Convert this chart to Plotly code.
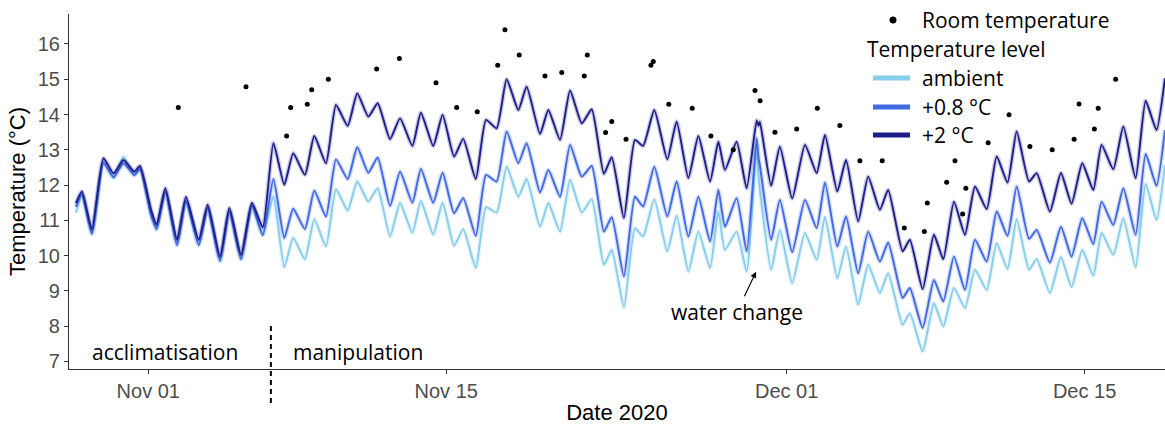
import pandas as pd
import plotly.graph_objects as go

BASE = pd.Timestamp("2020-11-01")

# days since 1 Nov 2020 (shared time base for the three tank series)
day = [-3.40, -3.12, -2.65, -2.11, -1.63, -1.17, -0.66, -0.39, 0.13, 0.39,
       0.80, 1.35, 1.77, 2.37, 2.79, 3.37, 3.81, 4.36, 4.87, 5.38,
       5.88, 6.39, 6.81, 7.36, 7.80, 8.35, 8.82, 9.37, 9.82, 10.34,
       10.78, 11.36, 11.83, 12.41, 12.81, 13.39, 13.83, 14.37, 14.80, 15.39,
       15.87, 16.37, 16.84, 17.39, 17.78, 18.41, 18.80, 19.35, 19.82, 20.37,
       20.84, 21.41, 21.78, 22.35, 22.87, 23.25, 23.78, 24.39, 24.83, 25.38,
       25.85, 26.40, 26.79, 27.10, 27.65, 28.12, 28.59, 28.68, 28.74, 29.27,
       29.68, 30.26, 30.86, 31.41, 31.80, 32.38, 32.79, 33.36, 33.83, 34.38,
       34.77, 35.45, 35.79, 36.39, 36.92, 37.36, 37.86, 38.38, 38.85, 39.40,
       39.87, 40.38, 40.81, 41.39, 41.75, 42.37, 42.89, 43.39, 43.89, 44.41,
       44.80, 45.35, 45.82, 46.40, 46.87, 47.38, 47.78]

temp_plus2 = [11.49, 11.82, 10.74, 12.76, 12.33, 12.71, 12.38, 12.54, 11.30, 10.87,
              11.91, 10.45, 11.66, 10.45, 11.44, 9.97, 11.35, 10.02, 11.50, 10.80,
              13.19, 12.01, 12.90, 12.29, 13.39, 12.62, 14.27, 13.68, 14.60, 13.94,
              14.32, 13.30, 13.89, 13.11, 14.05, 13.11, 13.99, 12.81, 13.31, 12.17,
              13.85, 13.61, 15.00, 14.13, 14.79, 13.45, 14.13, 13.28, 14.68, 13.75,
              14.15, 12.32, 12.79, 11.07, 13.28, 13.11, 14.13, 12.73, 13.80, 12.20,
              13.39, 12.10, 13.23, 12.43, 13.23, 11.91, 13.83, 13.68, 13.80, 11.98,
              13.09, 11.62, 13.14, 12.34, 13.42, 11.82, 12.71, 10.97, 12.24, 11.30,
              11.86, 10.12, 10.45, 9.05, 10.59, 9.90, 11.53, 10.59, 11.96, 11.32,
              12.81, 12.07, 13.52, 12.10, 12.34, 11.25, 12.34, 11.47, 12.62, 11.86,
              13.14, 12.45, 13.66, 12.20, 14.39, 13.56, 15.03]

temp_plus08 = [11.38, 11.75, 10.62, 12.62, 12.22, 12.62, 12.28, 12.45, 11.15, 10.75,
               11.82, 10.30, 11.55, 10.30, 11.35, 9.85, 11.25, 9.90, 11.42, 10.58,
               12.17, 10.50, 11.33, 10.75, 11.84, 11.11, 12.73, 12.17, 13.07, 12.35,
               12.78, 11.41, 12.38, 11.50, 12.46, 11.50, 12.35, 11.20, 11.63, 10.56,
               12.29, 12.10, 13.52, 12.62, 13.19, 11.79, 12.43, 11.67, 13.14, 12.24,
               12.54, 10.68, 11.09, 9.41, 11.67, 11.39, 12.52, 11.11, 12.10, 10.54,
               11.67, 10.40, 11.86, 10.82, 11.63, 10.12, 13.33, 12.75, 12.57, 10.45,
               11.58, 10.10, 11.58, 10.78, 12.07, 10.26, 11.11, 9.50, 10.68, 9.83,
               10.37, 8.80, 9.08, 7.95, 9.31, 8.70, 9.97, 9.03, 10.45, 9.83,
               11.25, 10.56, 11.96, 10.47, 10.73, 9.80, 10.82, 9.97, 11.06, 10.33,
               11.53, 10.87, 11.91, 10.59, 12.88, 11.98, 13.56]

temp_ambient = [11.22, 11.70, 10.62, 12.68, 12.20, 12.80, 12.30, 12.47, 11.15, 10.75,
                11.82, 10.30, 11.55, 10.30, 11.35, 9.85, 11.25, 9.90, 11.42, 10.60,
                11.67, 9.67, 10.50, 9.90, 11.03, 10.26, 11.88, 11.28, 12.10, 11.53,
                11.91, 10.54, 11.49, 10.65, 11.55, 10.60, 11.50, 10.28, 10.75, 9.65,
                11.37, 11.22, 12.52, 11.67, 12.17, 10.82, 11.49, 10.68, 12.15, 11.22,
                11.60, 9.74, 10.16, 8.54, 10.78, 10.54, 11.60, 10.12, 11.13, 9.55,
                10.68, 9.65, 11.25, 10.16, 10.68, 9.55, 13.15, 12.20, 11.86, 9.60,
                10.73, 9.22, 10.64, 9.88, 11.10, 9.36, 10.26, 8.61, 9.74, 8.94,
                9.50, 8.04, 8.37, 7.28, 8.65, 7.99, 9.08, 8.51, 9.60, 9.03,
                10.35, 9.62, 11.03, 9.60, 9.90, 8.94, 9.96, 9.11, 10.16, 9.43,
                10.64, 10.02, 11.06, 9.67, 12.03, 11.01, 12.57]

room_day = [1.41, 4.59, 6.50, 6.69, 7.47, 7.68, 8.46, 10.73, 11.80, 13.52,
            14.49, 15.46, 16.42, 16.76, 17.43, 18.64, 19.43, 20.49, 20.63, 21.49,
            21.78, 22.45, 23.62, 23.73, 24.46, 25.56, 26.44, 27.49, 28.51, 28.75,
            29.45, 30.47, 31.44, 32.50, 33.44, 34.49, 35.53, 36.47, 36.61, 37.52,
            37.91, 38.27, 38.42, 39.47, 40.45, 41.43, 42.48, 43.51, 43.74, 44.46,
            44.64, 45.46]
room_temp = [14.20, 14.79, 13.39, 14.20, 14.29, 14.70, 15.00, 15.29, 15.59, 14.90,
             14.20, 14.08, 15.40, 16.40, 15.69, 15.09, 15.19, 15.09, 15.69, 13.49,
             13.80, 13.30, 15.40, 15.50, 14.29, 14.18, 13.39, 13.00, 14.68, 14.39,
             13.50, 13.59, 14.18, 13.69, 12.69, 12.69, 10.78, 10.68, 11.49, 12.08,
             12.69, 11.18, 11.91, 13.20, 13.99, 13.09, 13.00, 13.30, 14.30, 13.59,
             14.18, 15.00]

series_names = ["ambient", "+0.8 °C", "+2 °C"]
series_values = [temp_ambient, temp_plus08, temp_plus2]
series_colors = ["#87CEEB", "#4169E1", "#1E1E8A"]

tick_dates = ["2020-11-01", "2020-11-15", "2020-12-01", "2020-12-15"]
tick_labels = ["Nov 01", "Nov 15", "Dec 01", "Dec 15"]

manipulation_start = 5.76   # days since 1 Nov
water_change_day = 28.56
water_change_temp = 9.54

x_min = pd.Timestamp("2020-10-28 06:33")
x_max = pd.Timestamp("2020-12-18 18:43")
y_min, y_max = 6.785, 16.85

x_dates = BASE + pd.to_timedelta(day, unit="D")
room_dates = BASE + pd.to_timedelta(room_day, unit="D")

fig = go.Figure()

for name, vals, col in zip(series_names, series_values, series_colors):
    fig.add_trace(go.Scatter(x=x_dates, y=vals, mode="lines", name=name,
                             line=dict(color=col, width=4.5, shape="spline", smoothing=0.5),
                             opacity=0.22, showlegend=False, hoverinfo="skip"))
    fig.add_trace(go.Scatter(x=x_dates, y=vals, mode="lines", name=name,
                             line=dict(color=col, width=1.9, shape="spline", smoothing=0.5),
                             showlegend=False))

fig.add_trace(go.Scatter(x=room_dates, y=room_temp, mode="markers", name="Room temperature",
                         marker=dict(color="black", size=5), showlegend=False))

L, R, T, B = 69, 0, 14, 56
PW, PH = 1165 - L - R, 425 - T - B


def px_to_paper_x(px):
    return (px - L) / PW


def px_to_paper_y(py):
    return (425 - B - py) / PH


ann_font = dict(family="Open Sans, Noto Sans, sans-serif", size=21, color="black")

shapes = []
annotations = []

# dashed separator
man_ts = BASE + pd.Timedelta(days=manipulation_start)
man_px = (man_ts - x_min) / (x_max - x_min)
shapes.append(dict(type="line", xref="paper", yref="paper", x0=man_px, x1=man_px,
                   y0=px_to_paper_y(403), y1=px_to_paper_y(323),
                   line=dict(color="black", width=2, dash="5px,4px")))

annotations.append(dict(x=BASE + pd.Timedelta(hours=19), y=7.27, xref="x", yref="y",
                        text="acclimatisation", showarrow=False, xanchor="center",
                        yanchor="middle", font=ann_font))
annotations.append(dict(x=BASE + pd.Timedelta(days=6.71), y=7.27, xref="x", yref="y",
                        text="manipulation", showarrow=False, xanchor="left",
                        yanchor="middle", font=ann_font))
annotations.append(dict(x=BASE + pd.Timedelta(days=water_change_day), y=water_change_temp,
                        xref="x", yref="y", text="water change", showarrow=True,
                        arrowhead=2, arrowsize=1.1, arrowwidth=1.1, arrowcolor="black",
                        ax=-19, ay=40, font=ann_font, standoff=0))

# manual legend
leg_text_x = px_to_paper_x(920)
shapes.append(dict(type="circle", xref="paper", yref="paper", xsizemode="pixel",
                   ysizemode="pixel", xanchor=px_to_paper_x(893), yanchor=px_to_paper_y(20),
                   x0=-3.5, x1=3.5, y0=-3.5, y1=3.5, fillcolor="black",
                   line=dict(color="black", width=0)))
annotations.append(dict(x=leg_text_x, y=px_to_paper_y(20), xref="paper", yref="paper",
                        text="Room temperature", showarrow=False, xanchor="left",
                        yanchor="middle", font=ann_font))
annotations.append(dict(x=px_to_paper_x(865), y=px_to_paper_y(49), xref="paper", yref="paper",
                        text="Temperature level", showarrow=False, xanchor="left",
                        yanchor="middle", font=ann_font))
for name, col, py in zip(series_names, series_colors, [78, 107, 135]):
    shapes.append(dict(type="line", xref="paper", yref="paper",
                       x0=px_to_paper_x(873), x1=px_to_paper_x(910),
                       y0=px_to_paper_y(py), y1=px_to_paper_y(py),
                       line=dict(color=col, width=5)))
    annotations.append(dict(x=leg_text_x, y=px_to_paper_y(py), xref="paper", yref="paper",
                            text=name, showarrow=False, xanchor="left", yanchor="middle",
                            font=ann_font))

axis_font = dict(family="Liberation Sans, Arial, sans-serif", size=20, color="#4D4D4D")
title_font = dict(family="Liberation Sans, Arial, sans-serif", size=22, color="black")

fig.update_layout(
    width=1165, height=425,
    margin=dict(l=L, r=R, t=T, b=B),
    plot_bgcolor="white", paper_bgcolor="white",
    showlegend=False,
    shapes=shapes, annotations=annotations,
    xaxis=dict(range=[x_min, x_max], showgrid=False, zeroline=False, automargin=False,
               showline=True, linecolor="#333333", linewidth=1.1,
               ticks="outside", ticklen=4, tickcolor="#333333", tickwidth=1.1,
               tickvals=pd.to_datetime(tick_dates), ticktext=tick_labels,
               tickfont=axis_font,
               title=dict(text="Date 2020", font=title_font, standoff=4)),
    yaxis=dict(range=[y_min, y_max], showgrid=False, zeroline=False, automargin=False,
               showline=True, linecolor="#333333", linewidth=1.1,
               ticks="outside", ticklen=4, tickcolor="#333333", tickwidth=1.1,
               tickvals=list(range(7, 17)), tickfont=axis_font,
               title=dict(text="Temperature (°C)", font=title_font, standoff=6)),
)

fig.write_html("out.html",
               config={"displayModeBar": False},
               post_script="document.body.style.margin='0';document.body.style.overflow='hidden';")
